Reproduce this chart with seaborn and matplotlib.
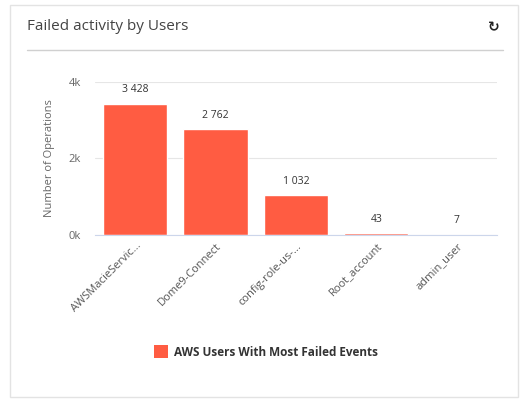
import seaborn as sns
import pandas as pd
import matplotlib.pyplot as plt
from matplotlib.patches import Rectangle, Patch
from matplotlib.lines import Line2D

users = ['AWSMacieServic...', 'Dome9-Connect', 'config-role-us-...', 'Root_account', 'admin_user']
failed = [3428, 2762, 1032, 43, 7]
value_labels = ['3 428', '2 762', '1 032', '43', '7']

df = pd.DataFrame({'user': users, 'failed': failed})

sns.set_theme(style='white')
plt.rcParams['font.family'] = ['Open Sans', 'DejaVu Sans']

bar_color = '#ff5c42'
grid_color = '#e6e6e6'
axis_color = '#ccd6eb'

fig = plt.figure(figsize=(5.28, 4.05), dpi=100)
ax = fig.add_axes([0.18, 0.42, 0.761, 0.378])

sns.barplot(data=df, x='user', y='failed', color=bar_color, width=0.8,
            saturation=1, ax=ax)

ax.set_ylim(0, 4000)
ax.set_yticks([0, 2000, 4000])
ax.set_yticklabels(['0k', '2k', '4k'], fontsize=8, color='#666666')
ax.yaxis.grid(True, color=grid_color, linewidth=0.8)
ax.set_axisbelow(True)
ax.tick_params(axis='y', length=0, pad=10)

ax.set_ylabel('Number of Operations', fontsize=8, color='#666666', labelpad=10)
ax.set_xlabel('')

# category boundary ticks
ax.set_xlim(-0.5, len(users) - 0.5)
ax.set_xticks([i - 0.5 for i in range(len(users) + 1)], minor=True)
ax.tick_params(axis='x', which='minor', length=6, color=axis_color, width=0.8, direction='out')
ax.tick_params(axis='x', which='major', length=0, pad=4)
ax.set_xticks(range(len(users)))
ax.set_xticklabels(users, rotation=45, ha='right', rotation_mode='anchor',
                   fontsize=8, color='#555555')

for s in ['top', 'right', 'left']:
    ax.spines[s].set_visible(False)
ax.spines['bottom'].set_color(axis_color)
ax.spines['bottom'].set_linewidth(0.8)

for i, (v, lab) in enumerate(zip(failed, value_labels)):
    ax.annotate(lab, (i, v), xytext=(0, 6), textcoords='offset points',
                ha='center', va='bottom', fontsize=7.5, color='#333333')

# card frame, title and separator
fig.patches.append(Rectangle((10 / 528, 8 / 405), 508 / 528, 392 / 405,
                             transform=fig.transFigure, fill=False,
                             edgecolor='#e3e3e3', linewidth=1))
fig.text(27 / 528, 1 - 27 / 405, 'Failed activity by Users', fontsize=11,
         color='#444444', va='center', ha='left')
fig.text(494 / 528, 1 - 27 / 405, '↻', fontsize=10, fontweight='bold',
         color='#222222', va='center', ha='center', family='DejaVu Sans')
fig.add_artist(Line2D([27 / 528, 503 / 528], [1 - 50 / 405, 1 - 50 / 405],
                      transform=fig.transFigure, color='#d0d0d0', linewidth=1))

handle = Patch(facecolor=bar_color, edgecolor='none')
leg = fig.legend([handle], ['AWS Users With Most Failed Events'],
                 loc='center', bbox_to_anchor=(266 / 528, 1 - 352 / 405),
                 frameon=False, prop={'size': 8.5, 'weight': 'bold'},
                 handlelength=1.2, handleheight=1.2, handletextpad=0.5)
for t in leg.get_texts():
    t.set_color('#333333')

fig.savefig('out.png', dpi=100)
